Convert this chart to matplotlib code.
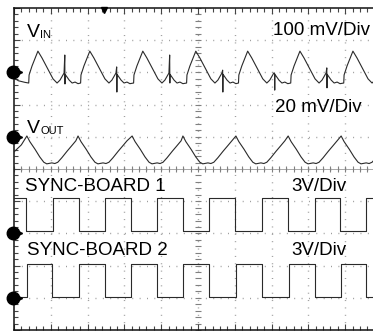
import matplotlib
matplotlib.use('Agg')
import matplotlib.pyplot as plt
from matplotlib.ticker import MultipleLocator

plt.rcParams['font.family'] = ['Liberation Sans', 'DejaVu Sans']

# time is in screen divisions (10 across), traces in their own units

# VIN, 100 mV/div, ground at +3 div
vin_lead_t = [0.00, 0.12, 0.30]
vin_lead_mv = [-17, -26, -31]
vin_step_t = [0.41, 1.82, 3.26, 4.70, 6.11, 7.53, 8.97]   # start of each switching cycle
vin_cycle_dt = [-0.01, 0.00, 0.08, 0.24, 0.35, 0.52, 0.65, 0.76, 0.84, 0.95,
                0.97, 0.975, 0.98, 1.01, 1.09, 1.17, 1.25, 1.33]
vin_cycle_mv = [-33, -8, 20, 66, 45, 8, -20, -33, -24, -2,
                None, None, -6, -11, -24, -33, -30, -35]
vin_spike_hi = [54, 17, 54, 7, -2, 14, 20]
vin_spike_lo = [-36, -61, -33, -61, -55, -48, -40]

# VOUT, 20 mV/div, ground at +1 div
vout_lead_t = [0.00, 0.20]
vout_lead_mv = [-9.4, -5.0]
vout_peak_t = [0.35, 1.74, 3.21, 4.59, 6.03, 7.45, 8.89]
vout_cycle_dt = [0.00, 0.08, 0.22, 0.35, 0.46, 0.54, 0.68, 0.76, 0.84, 0.95, 1.09, 1.22, 1.33]
vout_cycle_mv = [0.5, -3.0, -7.7, -12.5, -15.8, -16.8, -16.2, -16.6, -15.8, -13.0, -9.0, -5.5, -2.5]

# SYNC-BOARD 1 / 2, 3 V/div, ground at -2 and -4 div
sync1_edges = [0.33, 1.06, 1.77, 2.47, 3.18, 3.89, 4.59, 5.30, 6.01, 6.74, 7.45, 8.18, 8.86, 9.57]
sync2_edges = [0.35, 1.03, 1.77, 2.47, 3.18, 3.89, 4.59, 5.30, 6.03, 6.74, 7.47, 8.18, 8.89, 9.57]
sync1_levels = (3.3, 0.2)    # high, low in V
sync2_levels = (3.15, 0.05)

channels = {
    'vin': (3, 100.0),
    'vout': (1, 20.0),
    'sync1': (-2, 3.0),
    'sync2': (-4, 3.0),
}

trace_color = '#2a2a2a'
grid_color = '#9a9a9a'


def build_vin():
    t = list(vin_lead_t)
    v = list(vin_lead_mv)
    for k, t0 in enumerate(vin_step_t):
        mv = list(vin_cycle_mv)
        mv[10] = vin_spike_hi[k]
        mv[11] = vin_spike_lo[k]
        t += [t0 + d for d in vin_cycle_dt]
        v += mv
    return t, v


def build_vout():
    t = list(vout_lead_t)
    v = list(vout_lead_mv)
    for t0 in vout_peak_t:
        t += [t0 + d for d in vout_cycle_dt]
        v += vout_cycle_mv
    return t, v


def build_square(edges, levels, start_high):
    hi, lo = levels
    state = start_high
    t = [0.0]
    v = [hi if state else lo]
    for e in edges:
        t += [e, e]
        v += [hi if state else lo]
        state = not state
        v += [hi if state else lo]
    t.append(10.0)
    v.append(hi if state else lo)
    return t, v


def to_screen(vals, ch):
    off, scale = channels[ch]
    return [off + x / scale for x in vals]


fig = plt.figure(figsize=(3.73, 3.31), dpi=100)
ax = fig.add_axes([14 / 373, 1 / 331, 368 / 373, 322 / 331])
ax.set_xlim(0, 10)
ax.set_ylim(-5, 5)

# graticule
dots = (0, (0.7, 4.6))
for k in range(1, 10):
    ax.axvline(k, color=grid_color, lw=1, ls=dots, zorder=1)
for j in range(-4, 5):
    ax.axhline(j, color=grid_color, lw=1, ls=dots, zorder=1)
ax.axhline(0, color='#a8a8a8', lw=0.7, zorder=1)
minor_x = [i * 0.2 for i in range(51)]
minor_y = [-5 + i * 0.2 for i in range(51)]
ax.plot(minor_x, [0] * len(minor_x), ls='none', marker='|', ms=4, mew=0.8, color='#808080', zorder=1)
ax.plot([5] * len(minor_y), minor_y, ls='none', marker='_', ms=4, mew=0.8, color='#808080', zorder=1)

ax.xaxis.set_major_locator(MultipleLocator(1))
ax.xaxis.set_minor_locator(MultipleLocator(0.2))
ax.yaxis.set_major_locator(MultipleLocator(1))
ax.yaxis.set_minor_locator(MultipleLocator(0.2))
ax.tick_params(which='both', direction='in', top=True, right=True,
               labelbottom=False, labelleft=False, color='#444444')
ax.tick_params(which='major', length=4.5, width=0.8)
ax.tick_params(which='minor', length=3, width=0.8)
for s in ax.spines.values():
    s.set_linewidth(1.1)
    s.set_color('#111111')

# traces
t, v = build_vin()
ax.plot(t, to_screen(v, 'vin'), color=trace_color, lw=0.8, zorder=3)
t, v = build_vout()
ax.plot(t, to_screen(v, 'vout'), color=trace_color, lw=0.8, zorder=3)
t, v = build_square(sync1_edges, sync1_levels, True)
ax.plot(t, to_screen(v, 'sync1'), color=trace_color, lw=0.8, zorder=3)
t, v = build_square(sync2_edges, sync2_levels, False)
ax.plot(t, to_screen(v, 'sync2'), color=trace_color, lw=0.8, zorder=3)

# ground markers and trigger position
for ch in channels:
    off = channels[ch][0]
    ax.plot([-0.03], [off], marker='o', ms=9, color='black', clip_on=False, zorder=5)
    ax.plot([0.13], [off], marker='>', ms=5, color='black', clip_on=False, zorder=5)
ax.plot([2.45], [4.93], marker='v', ms=5, color='black', clip_on=False, zorder=5)

# labels
ax.text(0.35, 4.10, 'V', fontsize=14, ha='left', va='baseline')
ax.text(0.72, 4.08, 'IN', fontsize=8, ha='left', va='baseline')
ax.text(0.35, 1.12, 'V', fontsize=14, ha='left', va='baseline')
ax.text(0.72, 1.10, 'OUT', fontsize=8, ha='left', va='baseline')
ax.text(7.04, 4.16, '100 mV/Div', fontsize=13.5, ha='left', va='baseline')
ax.text(7.09, 1.77, '20 mV/Div', fontsize=13.5, ha='left', va='baseline')
ax.text(0.30, -0.68, 'SYNC-BOARD 1', fontsize=13.5, ha='left', va='baseline')
ax.text(0.35, -2.67, 'SYNC-BOARD 2', fontsize=13.5, ha='left', va='baseline')
ax.text(7.53, -0.68, '3V/Div', fontsize=13.5, ha='left', va='baseline')
ax.text(7.53, -2.67, '3V/Div', fontsize=13.5, ha='left', va='baseline')

fig.savefig('out.png', dpi=100)
